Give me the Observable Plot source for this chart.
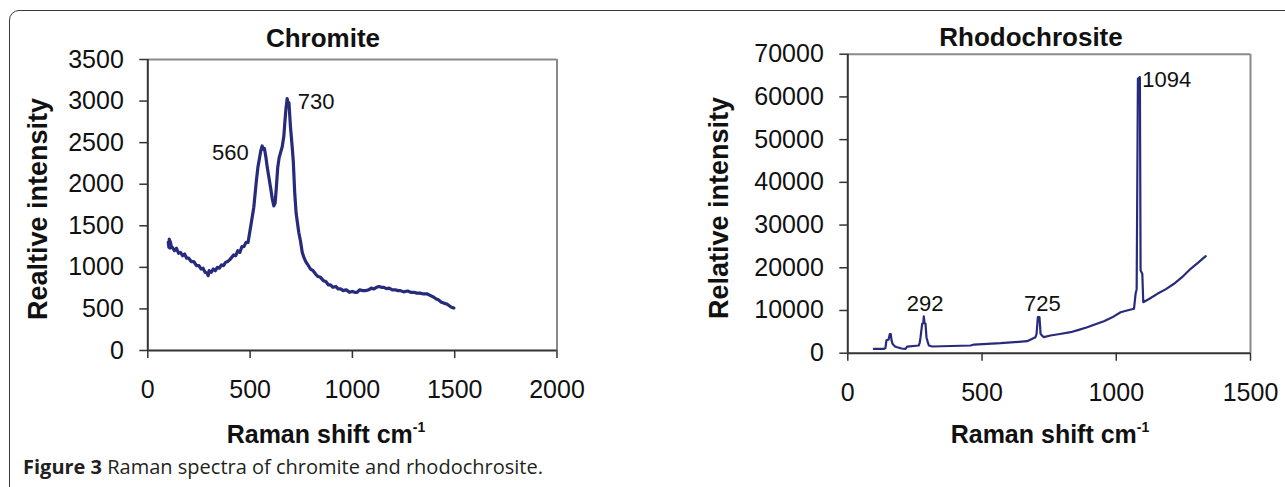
<!DOCTYPE html>
<html>
<head>
<meta charset="utf-8">
<script src="https://cdn.jsdelivr.net/npm/d3@7"></script>
<script src="https://cdn.jsdelivr.net/npm/@observablehq/plot@0.6"></script>
<style>
  html, body { margin: 0; padding: 0; background: #fff; }
  #wrap { position: relative; width: 1285px; height: 487px; overflow: hidden; background: #fff; font-family: "Liberation Sans", Arial, sans-serif; color: #111; }
  #border { position: absolute; left: 9px; top: 10px; width: 1400px; height: 500px; border: 1.5px solid #3a3a3a; border-radius: 10px; box-sizing: border-box; }
  .plotbox { position: absolute; top: 0; }
  .lbl { position: absolute; line-height: 1; white-space: nowrap; transform: translateX(-50%); }
  .title { font-weight: bold; font-size: 26px; }
  .xlab { font-weight: bold; font-size: 25px; }
  .xlab sup { font-size: 14px; vertical-align: 0; position: relative; top: -11px; }
  .ylab { position: absolute; line-height: 1; white-space: nowrap; font-weight: bold; font-size: 27px; transform: translate(-50%, -50%) rotate(-90deg); }
  #caption { position: absolute; left: 23px; top: 455px; font-family: "Open Sans", sans-serif; font-size: 20px; line-height: 24px; color: #231f20; white-space: nowrap; }
  #caption b { font-weight: 700; }
</style>
</head>
<body>
<div id="wrap">
  <div id="border"></div>
  <div id="left" class="plotbox" style="left:0px"></div>
  <div id="right" class="plotbox" style="left:640px"></div>
  <div class="lbl title" style="left:323px; top:24.5px">Chromite</div>
  <div class="lbl title" style="left:1031px; top:24px">Rhodochrosite</div>
  <div class="lbl xlab" style="left:326px; top:422px">Raman shift cm<sup>-1</sup></div>
  <div class="lbl xlab" style="left:1050px; top:422px">Raman shift cm<sup>-1</sup></div>
  <div class="ylab" style="left:38px; top:209px">Realtive intensity</div>
  <div class="ylab" style="left:719px; top:208px">Relative intensity</div>
  <div id="caption"><b>Figure 3</b> Raman spectra of chromite and rhodochrosite.</div>
</div>
<script>
// ---- Chromite spectrum ----
const chromiteShift = [100,103,105,108,110,115,120,130,140,150,160,170,180,190,200,212,225,238,250,260,270,280,290,295,300,310,320,330,340,350,360,370,380,390,400,410,420,430,440,450,460,470,480,490,500,510,518,525,531,538,545,552,559,565,570,577,584,592,600,608,616,622,628,635,642,649,657,665,670,675,681,686,690,697,704,711,718,725,730,738,746,755,763,772,780,795,808,820,832,844,858,870,882,893,905,920,930,942,955,970,985,1000,1012,1023,1035,1050,1065,1080,1092,1105,1118,1130,1142,1154,1166,1180,1195,1210,1222,1235,1250,1270,1285,1300,1315,1330,1348,1366,1382,1398,1410,1420,1435,1447,1460,1470,1484,1496];
const chromiteIntensity = [1300,1240,1340,1230,1310,1250,1240,1200,1230,1170,1180,1140,1160,1110,1110,1070,1070,1020,1020,980,990,940,930,900,960,940,980,960,1000,990,1030,1020,1060,1070,1090,1120,1150,1140,1200,1180,1250,1250,1300,1300,1450,1600,1720,1900,2050,2200,2300,2400,2460,2420,2430,2330,2200,2080,1960,1830,1740,1770,1950,2200,2320,2380,2450,2580,2750,2900,3030,2960,2980,2700,2500,2280,1900,1650,1560,1420,1320,1180,1120,1070,1040,980,960,920,890,880,840,830,790,790,760,770,740,740,720,730,700,710,700,700,730,720,720,730,750,740,760,770,760,760,745,750,730,730,720,720,705,715,700,700,690,690,680,680,660,640,620,610,580,570,560,545,520,510];
const chromiteXTicks = [0, 500, 1000, 1500, 2000];
const chromiteYTicks = [0, 500, 1000, 1500, 2000, 2500, 3000, 3500];
const chromiteLabels = ["560", "730"];
const chromiteLabelX = [493, 733];
const chromiteLabelY = [2370, 2985];
const chromiteLabelAnchor = ["end", "start"];

// ---- Rhodochrosite spectrum ----
const rhodoShift = [97,134,140,144,152,156.5,160,163,166.6,175,184,200,215,221,264,268,271,277,281,283,286,289.5,293,298,302,314,457,470,569,668,699,703,708,714,718,725,730,755,790,830,860,892,920,954,985,1016,1040,1066,1072,1076,1080.6,1085,1088,1090.6,1097,1100.6,1125,1153,1185,1215,1245,1277,1305,1333];
const rhodoIntensity = [1000,1000,1200,3000,3200,4500,4500,3000,2200,1600,1400,1100,1030,1560,1800,2500,3750,6880,7000,8600,7000,6880,3750,2600,1800,1570,1800,2030,2340,2810,3750,4500,8430,8430,4540,4000,3750,4150,4500,4920,5450,6090,6700,7490,8400,9600,10000,10400,13900,15000,64260,64500,64640,19370,18590,11940,12800,13900,15000,16250,17800,19760,21200,22720];
const rhodoXTicks = [0, 500, 1000, 1500];
const rhodoYTicks = [0, 10000, 20000, 30000, 40000, 50000, 60000, 70000];
const rhodoLabels = ["292", "725", "1094"];
const rhodoLabelX = [288, 725, 1097];
const rhodoLabelY = [11600, 11600, 64050];
const rhodoLabelAnchor = ["middle", "middle", "start"];

const lineColor = "#272b7c";
const axisColor = "#333";
const frameColor = "#8a8a8a";

function spectrum({shift, intensity, xTicks, yTicks, labels, labelX, labelY, labelAnchor, width, height, margins, strokeWidth}) {
  const data = shift.map((s, i) => ({x: s, y: intensity[i]}));
  const ann = labels.map((t, i) => ({x: labelX[i], y: labelY[i], t, a: labelAnchor[i]}));
  const xMax = xTicks[xTicks.length - 1];
  const yMax = yTicks[yTicks.length - 1];
  return Plot.plot({
    width, height,
    marginLeft: margins[0], marginRight: margins[1], marginTop: margins[2], marginBottom: margins[3],
    x: {domain: [0, xMax]},
    y: {domain: [0, yMax]},
    style: {fontFamily: "'Liberation Sans', Arial, sans-serif", fontSize: "25px", color: "#111", background: "transparent", overflow: "visible"},
    marks: [
      Plot.ruleY([yMax], {stroke: frameColor, strokeWidth: 2}),
      Plot.ruleX([xMax], {stroke: frameColor, strokeWidth: 2}),
      Plot.axisY({ticks: yTicks, tickSize: 8, tickPadding: 16, tickFormat: d => String(d), label: null, stroke: axisColor, strokeWidth: 1.5, fontSize: 25}),
      Plot.axisX({ticks: xTicks, tickSize: 8, tickPadding: 22, tickFormat: d => String(d), label: null, stroke: axisColor, strokeWidth: 1.5, fontSize: 25}),
      Plot.ruleX([0], {stroke: axisColor, strokeWidth: 2}),
      Plot.ruleY([0], {stroke: axisColor, strokeWidth: 2}),
      Plot.line(data, {x: "x", y: "y", stroke: lineColor, strokeWidth, strokeLinejoin: "round", curve: "linear"}),
      ...["start", "middle", "end"].map(a =>
        Plot.text(ann.filter(d => d.a === a), {x: "x", y: "y", text: "t", textAnchor: a, lineAnchor: "middle", fontSize: 22, fill: "#111"}))
    ]
  });
}

document.getElementById("left").appendChild(spectrum({
  shift: chromiteShift, intensity: chromiteIntensity, xTicks: chromiteXTicks, yTicks: chromiteYTicks,
  labels: chromiteLabels, labelX: chromiteLabelX, labelY: chromiteLabelY, labelAnchor: chromiteLabelAnchor,
  width: 640, height: 430, margins: [147.3, 83.5, 59, 80], strokeWidth: 3.2
}));
document.getElementById("right").appendChild(spectrum({
  shift: rhodoShift, intensity: rhodoIntensity, xTicks: rhodoXTicks, yTicks: rhodoYTicks,
  labels: rhodoLabels, labelX: rhodoLabelX, labelY: rhodoLabelY, labelAnchor: rhodoLabelAnchor,
  width: 645, height: 430, margins: [207.3, 35, 53.7, 77.3], strokeWidth: 2.2
}));
</script>
</body>
</html>
